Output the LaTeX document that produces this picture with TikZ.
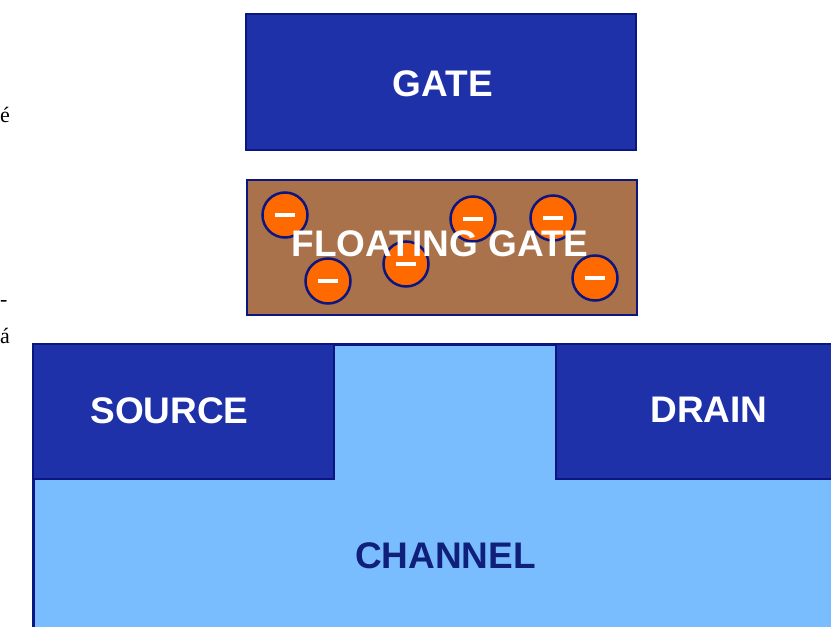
\documentclass[tikz,border=0pt]{standalone}
\usepackage{fontspec}
\setmainfont{Liberation Sans}
\newfontfamily\strayfont{Liberation Serif}
\definecolor{gateblue}{HTML}{1E31A9}
\definecolor{edgenavy}{HTML}{0B1680}
\definecolor{fgbrown}{HTML}{A9724B}
\definecolor{eorange}{HTML}{FF6A00}
\definecolor{chanblue}{HTML}{79BDFF}
\definecolor{chantext}{HTML}{10207A}
\begin{document}
\begin{tikzpicture}[x=1pt,y=-1pt,
  blk/.style={rectangle, fill=gateblue, draw=edgenavy, line width=2pt, inner sep=0pt},
  fgbox/.style={rectangle, fill=fgbrown, draw=edgenavy, line width=2.5pt, inner sep=0pt, minimum width=390pt, minimum height=135pt},
  electron/.style={circle, fill=eorange, draw=edgenavy, line width=2.5pt, minimum size=45pt, inner sep=0pt},
  minusbar/.style={white, line width=3.5pt},
  lbl/.style={text=white, font=\bfseries\fontsize{37}{40}\selectfont, inner sep=0pt},
  chanlbl/.style={text=chantext, font=\bfseries\fontsize{37}{40}\selectfont, inner sep=0pt},
  stray/.style={font=\strayfont\fontsize{22}{24}\selectfont, inner sep=0pt, anchor=west}
]
\path[use as bounding box] (0,0) rectangle (831,627);
\clip (0,0) rectangle (831,627);

% stray cropped characters at the left edge
\node[stray] (s1) at (0,115) {é};
\node[stray] (s2) at (0,303) {-};
\node[stray] (s3) at (0,336) {á};

% gate
\node[blk, minimum width=390pt, minimum height=136pt] (gate) at (441,82) {};
\node[lbl] (gatel) at (443,83.5) {GATE};

% floating gate
\node[fgbox] (fg) at (442,247.5) {};
\foreach \n/\px/\py in {e1/285/215, e2/328/281, e3/406/264, e4/473/219, e5/553/218, e6/595/278}{
  \node[electron] (\n) at (\px,\py) {};
  \draw[minusbar] ([xshift=-10pt]\n.center) -- ([xshift=10pt]\n.center);
}
\node[lbl] (fgl) at (440,244) {FLOATING GATE};

% channel, source, drain
\node[rectangle, fill=chanblue, draw=edgenavy, line width=2.5pt, inner sep=0pt,
      minimum width=810pt, minimum height=300pt, anchor=north west] (chan) at (32,343) {};
\node[blk, minimum width=301pt, minimum height=135pt, anchor=north west] (src) at (32,343) {};
\node[blk, minimum width=290pt, minimum height=135pt, anchor=north west] (drn) at (555,343) {};
\node[lbl] (srcl) at (169.5,410.5) {SOURCE};
\node[lbl] (drnl) at (709,410) {DRAIN};
\node[chanlbl] (chanl) at (445.5,555.5) {CHANNEL};
\end{tikzpicture}
\end{document}
